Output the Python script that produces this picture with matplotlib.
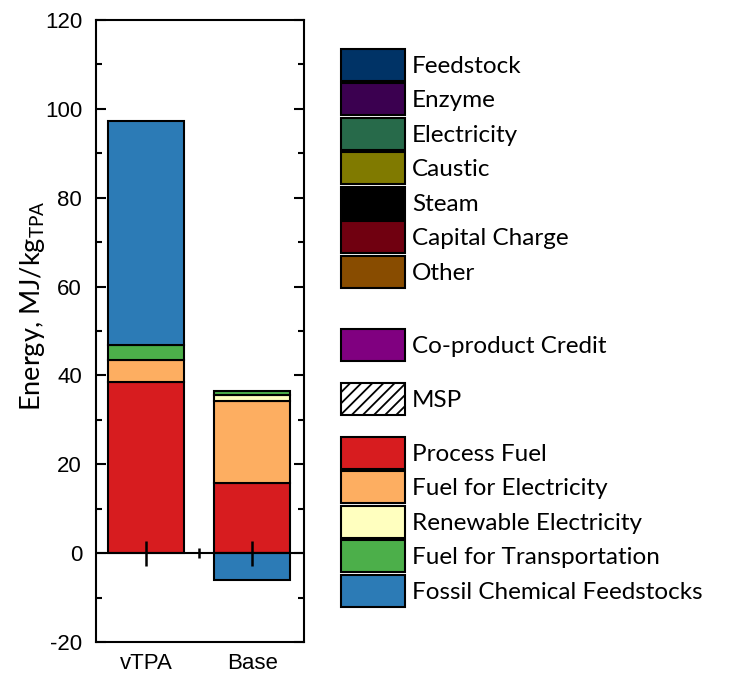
import matplotlib
matplotlib.use("Agg")
import matplotlib.pyplot as plt
from matplotlib.patches import Patch
from matplotlib.ticker import MultipleLocator

categories = ["vTPA", "Base"]
process_fuel = [38.6, 15.8]
fuel_for_electricity = [4.9, 18.5]
renewable_electricity = [0.0, 1.3]
fuel_for_transportation = [3.3, 1.0]
fossil_feedstocks = [50.5, -6.1]

series = [
    ("Process Fuel", process_fuel, "#d71c1f"),
    ("Fuel for Electricity", fuel_for_electricity, "#fdae61"),
    ("Renewable Electricity", renewable_electricity, "#ffffbf"),
    ("Fuel for Transportation", fuel_for_transportation, "#4caf4a"),
    ("Fossil Chemical Feedstocks", fossil_feedstocks, "#2c7bb6"),
]

cost_labels = ["Feedstock", "Enzyme", "Electricity", "Caustic", "Steam",
               "Capital Charge", "Other"]
cost_colors = ["#003366", "#3b0050", "#276a4a", "#807a00", "#000000",
               "#700010", "#884c00"]

plt.rcParams["hatch.linewidth"] = 1.3
plt.rcParams["axes.unicode_minus"] = False
tick_font = "Liberation Sans"
text_font = "Lato"

fig = plt.figure(figsize=(7.31, 6.78), dpi=100)
ax = fig.add_axes([0.1313, 0.0531, 0.2846, 0.9174])

x = [1, 2]
pos_bottom = [0.0, 0.0]
neg_bottom = [0.0, 0.0]
for name, vals, col in series:
    for i, v in enumerate(vals):
        if v == 0:
            continue
        if v > 0:
            ax.bar(x[i], v, 0.71, bottom=pos_bottom[i], color=col,
                   edgecolor="black", linewidth=1.5, zorder=2)
            pos_bottom[i] += v
        else:
            ax.bar(x[i], v, 0.71, bottom=neg_bottom[i], color=col,
                   edgecolor="black", linewidth=1.5, zorder=2)
            neg_bottom[i] += v

ax.set_xlim(0.528, 2.49)
ax.set_ylim(-20, 120)
ax.yaxis.set_major_locator(MultipleLocator(20))
ax.yaxis.set_minor_locator(MultipleLocator(10))
ax.tick_params(axis="y", which="both", direction="in", right=True,
               labelsize=16, width=1.5, pad=10)
ax.tick_params(axis="y", which="major", length=7)
ax.tick_params(axis="y", which="minor", length=4)
for lab in ax.get_yticklabels():
    lab.set_fontfamily(tick_font)
ax.set_xticks(x)
ax.set_xticklabels(categories, fontsize=16, fontfamily=tick_font)
ax.tick_params(axis="x", length=0, pad=8)
for s in ax.spines.values():
    s.set_linewidth(1.5)

# zero line with ticks crossing it (Origin-style axis at 0)
ax.axhline(0, color="black", linewidth=1.5, zorder=3)
ax.plot(x, [0, 0], linestyle="none", marker="|", markersize=18,
        markeredgewidth=1.8, color="black", zorder=4)
ax.plot([1.5], [0], linestyle="none", marker="|", markersize=7,
        markeredgewidth=1.8, color="black", zorder=4)

ax.set_ylabel("Energy, MJ/kg$_{\\mathregular{TPA}}$", fontsize=19.5,
              fontfamily=text_font)
ax.yaxis.set_label_coords(-0.235, 0.54)

# legends
def handles_for(labels, colors, hatch=None):
    return [Patch(facecolor=c, edgecolor="black", linewidth=1.5, hatch=hatch,
                  label=l) for l, c in zip(labels, colors)]

leg_kw = dict(frameon=False, handlelength=2.63, handleheight=1.65,
              handletextpad=0.3, labelspacing=0.1, borderpad=0,
              borderaxespad=0, loc="upper left",
              prop={"family": text_font, "size": 17.5})

groups = [
    (handles_for(cost_labels, cost_colors), 49),
    (handles_for(["Co-product Credit"], ["#800080"]), 329),
    (handles_for(["MSP"], ["white"], hatch="///"), 383),
    (handles_for([s[0] for s in series], [s[2] for s in series]), 437),
]
for hs, top in groups:
    fig.legend(handles=hs, bbox_to_anchor=(341 / 731, 1 - top / 678), **leg_kw)

fig.savefig("out.png", dpi=100)
